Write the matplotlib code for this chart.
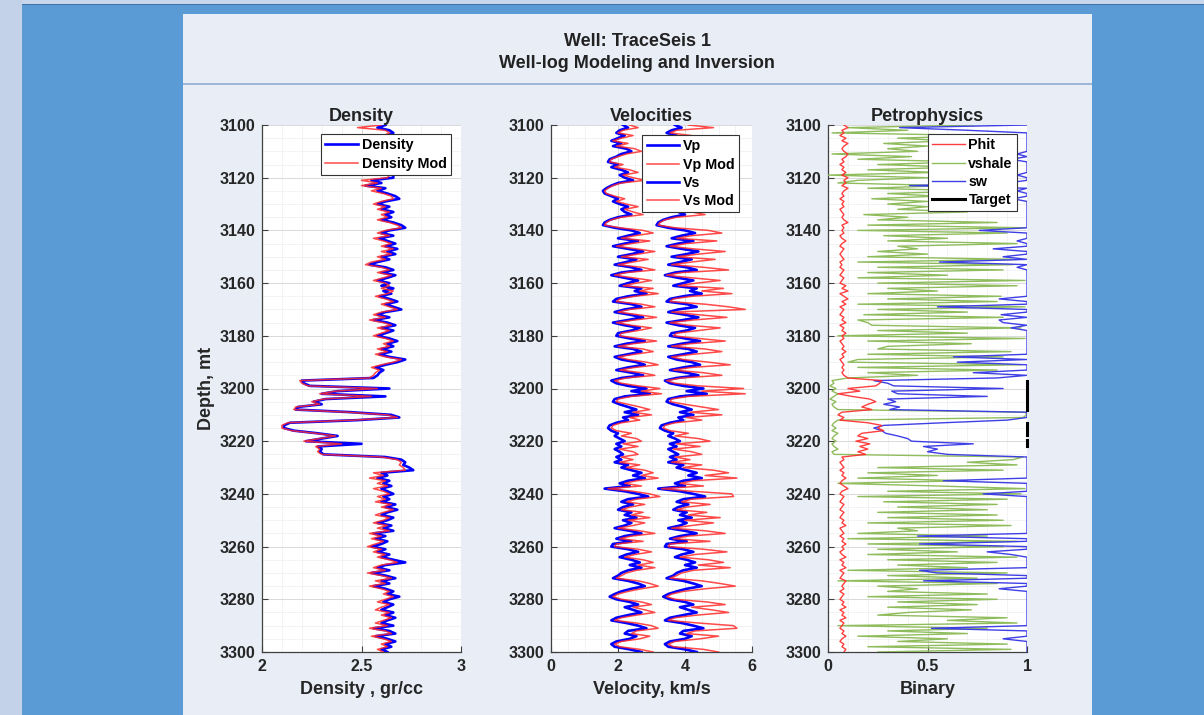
import numpy as np
import matplotlib
matplotlib.use("Agg")
import matplotlib.pyplot as plt
from matplotlib.patches import Rectangle
from matplotlib.ticker import MultipleLocator

plt.rcParams['font.family'] = ['Liberation Sans', 'DejaVu Sans']
plt.rcParams['font.weight'] = 'bold'

# ---------------- log data, 1 m sampling from 3100 to 3300 m ----------------
depth = np.arange(3100, 3301, 1.0)

density = [
    2.62, 2.58, 2.64, 2.66, 2.63, 2.65, 2.64, 2.66, 2.63, 2.65,
    2.64, 2.62, 2.66, 2.63, 2.65, 2.62, 2.64, 2.61, 2.63, 2.66,
    2.66, 2.55, 2.60, 2.52, 2.62, 2.58, 2.63, 2.67, 2.69, 2.62,
    2.58, 2.64, 2.60, 2.66, 2.62, 2.65, 2.60, 2.66, 2.70, 2.72,
    2.64, 2.60, 2.66, 2.59, 2.63, 2.67, 2.62, 2.68, 2.63, 2.67,
    2.60, 2.64, 2.58, 2.54, 2.62, 2.66, 2.60, 2.67, 2.63, 2.58,
    2.64, 2.60, 2.66, 2.61, 2.65, 2.59, 2.64, 2.68, 2.62, 2.66,
    2.70, 2.62, 2.58, 2.64, 2.56, 2.63, 2.67, 2.60, 2.66, 2.62,
    2.58, 2.64, 2.68, 2.63, 2.66, 2.60, 2.65, 2.59, 2.64, 2.72,
    2.68, 2.62, 2.57, 2.61, 2.59, 2.58, 2.56, 2.20, 2.21, 2.24,
    2.64, 2.38, 2.30, 2.62, 2.32, 2.26, 2.30, 2.18, 2.17, 2.45,
    2.65, 2.69, 2.48, 2.14, 2.11, 2.11, 2.16, 2.28, 2.38, 2.30,
    2.22, 2.50, 2.28, 2.30, 2.29, 2.31, 2.62, 2.70, 2.72, 2.71,
    2.74, 2.76, 2.60, 2.63, 2.58, 2.64, 2.61, 2.65, 2.60, 2.63,
    2.66, 2.61, 2.64, 2.60, 2.67, 2.62, 2.68, 2.63, 2.60, 2.66,
    2.63, 2.58, 2.65, 2.61, 2.66, 2.56, 2.62, 2.57, 2.63, 2.60,
    2.55, 2.62, 2.58, 2.64, 2.60, 2.66, 2.72, 2.62, 2.58, 2.64,
    2.55, 2.62, 2.67, 2.60, 2.64, 2.56, 2.62, 2.66, 2.63, 2.69,
    2.64, 2.61, 2.66, 2.63, 2.60, 2.66, 2.62, 2.67, 2.63, 2.60,
    2.66, 2.56, 2.64, 2.67, 2.57, 2.63, 2.67, 2.62, 2.65, 2.60,
    2.63,
]

density_mod = [
    2.60, 2.48, 2.62, 2.64, 2.61, 2.63, 2.62, 2.64, 2.61, 2.63,
    2.62, 2.60, 2.64, 2.61, 2.63, 2.60, 2.62, 2.59, 2.61, 2.64,
    2.63, 2.50, 2.58, 2.50, 2.60, 2.55, 2.61, 2.65, 2.66, 2.60,
    2.56, 2.62, 2.58, 2.64, 2.60, 2.63, 2.58, 2.64, 2.68, 2.70,
    2.62, 2.58, 2.64, 2.56, 2.61, 2.65, 2.60, 2.66, 2.60, 2.65,
    2.58, 2.62, 2.55, 2.52, 2.60, 2.64, 2.58, 2.65, 2.61, 2.56,
    2.62, 2.64, 2.60, 2.66, 2.63, 2.57, 2.62, 2.66, 2.60, 2.64,
    2.68, 2.60, 2.56, 2.62, 2.54, 2.61, 2.65, 2.58, 2.64, 2.60,
    2.56, 2.62, 2.66, 2.61, 2.64, 2.58, 2.63, 2.57, 2.62, 2.70,
    2.66, 2.60, 2.55, 2.59, 2.57, 2.56, 2.54, 2.19, 2.20, 2.23,
    2.58, 2.37, 2.29, 2.55, 2.31, 2.25, 2.29, 2.17, 2.16, 2.43,
    2.63, 2.68, 2.46, 2.13, 2.10, 2.10, 2.15, 2.27, 2.37, 2.29,
    2.21, 2.40, 2.27, 2.29, 2.28, 2.30, 2.60, 2.68, 2.70, 2.69,
    2.71, 2.72, 2.56, 2.61, 2.54, 2.62, 2.58, 2.63, 2.56, 2.61,
    2.64, 2.58, 2.62, 2.57, 2.65, 2.60, 2.66, 2.61, 2.57, 2.64,
    2.61, 2.56, 2.63, 2.58, 2.64, 2.54, 2.60, 2.55, 2.61, 2.57,
    2.53, 2.60, 2.56, 2.62, 2.58, 2.64, 2.68, 2.60, 2.56, 2.62,
    2.53, 2.60, 2.65, 2.57, 2.62, 2.54, 2.60, 2.64, 2.61, 2.66,
    2.62, 2.58, 2.64, 2.60, 2.57, 2.64, 2.60, 2.65, 2.61, 2.57,
    2.63, 2.54, 2.62, 2.65, 2.55, 2.61, 2.65, 2.60, 2.63, 2.58,
    2.61,
]

vp = [
    3.70, 3.90, 3.60, 3.45, 3.75, 3.55, 3.35, 3.65, 3.40, 3.85,
    4.00, 3.70, 3.50, 3.30, 3.25, 3.55, 3.35, 3.70, 3.95, 3.60,
    3.80, 4.05, 3.55, 3.35, 3.20, 3.15, 3.20, 3.40, 3.60, 3.45,
    3.65, 3.90, 3.70, 3.80, 4.00, 3.60, 3.35, 3.20, 3.15, 3.50,
    4.00, 4.30, 3.90, 3.60, 4.25, 3.80, 3.45, 3.90, 4.40, 4.05,
    3.60, 4.20, 3.85, 3.50, 4.05, 4.35, 3.70, 3.40, 3.80, 4.25,
    3.95, 3.65, 4.35, 4.15, 4.50, 3.95, 3.55, 3.45, 4.05, 4.35,
    3.80, 3.50, 4.00, 4.40, 3.95, 3.45, 3.80, 4.30, 4.05, 3.60,
    3.55, 4.00, 4.45, 3.90, 3.50, 4.10, 4.35, 3.95, 3.50, 3.75,
    4.20, 4.45, 3.95, 3.55, 4.05, 4.40, 3.75, 3.40, 3.55, 3.95,
    4.55, 4.05, 4.65, 3.85, 3.50, 3.45, 3.65, 3.95, 4.20, 3.85,
    4.25, 3.80, 3.95, 3.55, 3.30, 3.25, 3.40, 3.65, 3.50, 3.70,
    3.85, 3.55, 3.75, 3.50, 3.65, 3.80, 3.55, 3.75, 3.50, 3.95,
    3.75, 4.05, 4.35, 4.10, 4.50, 3.95, 3.70, 4.00, 3.20, 3.85,
    4.25, 4.60, 3.95, 3.75, 4.10, 3.80, 3.65, 4.05, 3.85, 4.20,
    3.80, 4.05, 3.85, 3.50, 4.00, 4.35, 3.85, 3.55, 4.05, 3.45,
    3.40, 3.95, 4.25, 3.90, 3.70, 4.05, 4.30, 4.00, 4.35, 3.95,
    3.75, 3.65, 3.45, 3.95, 4.25, 4.50, 4.05, 3.75, 3.50, 3.35,
    3.55, 4.00, 4.25, 3.85, 4.10, 4.35, 3.95, 3.55, 3.40, 3.90,
    4.25, 4.55, 3.95, 3.85, 4.20, 4.00, 3.55, 3.40, 3.50, 4.00,
    4.35,
]

vp_mod = [
    4.10, 4.85, 3.75, 3.55, 4.20, 3.70, 3.40, 3.95, 3.50, 4.30,
    4.50, 3.90, 3.60, 3.35, 3.30, 3.75, 3.45, 4.00, 4.40, 3.75,
    4.20, 4.70, 3.70, 3.40, 3.25, 3.20, 3.25, 3.55, 3.90, 3.60,
    3.90, 4.40, 3.85, 4.20, 4.60, 3.75, 3.40, 3.25, 3.20, 3.70,
    4.70, 5.10, 4.20, 3.75, 4.95, 4.05, 3.55, 4.25, 5.20, 4.40,
    3.75, 4.90, 4.20, 3.60, 4.55, 5.30, 3.90, 3.45, 4.20, 5.05,
    4.35, 3.80, 5.15, 4.50, 5.40, 4.20, 3.65, 3.55, 4.60, 5.30,
    5.80, 3.60, 4.40, 5.25, 4.25, 3.55, 4.10, 5.05, 4.40, 3.75,
    3.65, 4.40, 5.20, 4.15, 3.60, 4.60, 5.10, 4.25, 3.60, 3.95,
    4.70, 5.35, 4.20, 3.65, 4.55, 5.10, 3.90, 3.45, 3.70, 4.40,
    5.75, 4.50, 5.80, 4.10, 3.60, 3.55, 4.00, 4.50, 5.00, 4.15,
    5.10, 4.05, 4.50, 3.70, 3.40, 3.35, 3.55, 4.10, 3.70, 4.40,
    4.75, 3.75, 4.45, 3.65, 4.20, 4.50, 3.70, 4.15, 3.60, 4.50,
    3.95, 4.85, 5.30, 4.60, 5.55, 4.25, 3.85, 4.55, 3.30, 4.20,
    5.40, 5.45, 4.20, 3.90, 4.75, 4.05, 3.75, 4.65, 4.10, 5.05,
    4.00, 4.85, 4.20, 3.60, 4.60, 5.20, 4.10, 3.65, 4.75, 3.55,
    3.50, 4.55, 5.25, 4.30, 3.85, 4.70, 5.15, 4.40, 5.35, 4.25,
    3.90, 3.75, 3.55, 4.50, 5.05, 5.50, 4.60, 3.95, 3.60, 3.45,
    3.70, 4.65, 5.20, 4.20, 4.80, 5.30, 4.35, 3.70, 3.50, 4.40,
    5.45, 5.55, 4.30, 4.05, 5.00, 4.45, 3.70, 3.50, 3.65, 4.55,
    5.00,
]

vs = [
    2.15, 2.30, 2.05, 1.95, 2.20, 2.00, 1.80, 2.10, 1.85, 2.25,
    2.40, 2.10, 1.95, 1.75, 1.70, 2.00, 1.80, 2.10, 2.30, 2.05,
    2.20, 2.45, 2.00, 1.80, 1.65, 1.55, 1.60, 1.80, 2.00, 1.85,
    2.05, 2.30, 2.10, 2.20, 2.40, 2.00, 1.75, 1.60, 1.55, 1.90,
    2.40, 2.65, 2.30, 2.00, 2.60, 2.20, 1.85, 2.30, 2.75, 2.40,
    2.00, 2.55, 2.25, 1.90, 2.40, 2.70, 2.10, 1.80, 2.20, 2.60,
    2.30, 2.05, 2.70, 2.50, 2.85, 2.30, 1.95, 1.85, 2.40, 2.70,
    2.20, 1.90, 2.35, 2.75, 2.30, 1.85, 2.20, 2.65, 2.40, 2.00,
    1.95, 2.35, 2.80, 2.25, 1.90, 2.45, 2.70, 2.30, 1.90, 2.10,
    2.55, 2.80, 2.30, 1.95, 2.40, 2.75, 2.10, 1.80, 1.95, 2.30,
    2.85, 2.40, 2.95, 2.20, 1.90, 1.85, 2.05, 2.30, 2.55, 2.20,
    2.60, 2.15, 2.30, 1.95, 1.75, 1.70, 1.80, 2.00, 1.90, 2.05,
    2.20, 1.95, 2.10, 1.90, 2.05, 2.15, 1.95, 2.10, 1.90, 2.30,
    2.10, 2.40, 2.70, 2.45, 2.80, 2.30, 2.05, 2.35, 1.60, 2.20,
    2.60, 2.90, 2.30, 2.10, 2.45, 2.15, 2.00, 2.40, 2.20, 2.55,
    2.15, 2.40, 2.20, 1.90, 2.35, 2.70, 2.20, 1.95, 2.40, 1.85,
    1.80, 2.30, 2.60, 2.25, 2.05, 2.40, 2.65, 2.35, 2.70, 2.30,
    2.10, 2.00, 1.85, 2.30, 2.60, 2.80, 2.40, 2.10, 1.90, 1.75,
    1.95, 2.35, 2.60, 2.20, 2.45, 2.70, 2.30, 1.95, 1.80, 2.25,
    2.60, 2.85, 2.30, 2.20, 2.55, 2.35, 1.95, 1.80, 1.90, 2.35,
    2.70,
]

vs_mod = [
    2.35, 2.60, 2.15, 2.00, 2.45, 2.10, 1.85, 2.30, 1.95, 2.50,
    2.70, 2.25, 2.00, 1.80, 1.75, 2.15, 1.90, 2.35, 2.60, 2.15,
    2.45, 2.80, 2.10, 1.85, 1.70, 1.60, 1.65, 1.90, 2.20, 1.95,
    2.25, 2.60, 2.20, 2.45, 2.75, 2.10, 1.80, 1.65, 1.60, 2.05,
    2.75, 3.05, 2.50, 2.10, 2.95, 2.40, 1.95, 2.55, 3.10, 2.60,
    2.10, 2.90, 2.45, 2.00, 2.70, 3.10, 2.25, 1.90, 2.45, 3.00,
    2.55, 2.15, 3.05, 2.65, 3.20, 2.50, 2.05, 1.95, 2.70, 3.10,
    2.35, 2.00, 2.60, 3.15, 2.50, 1.95, 2.40, 3.00, 2.60, 2.10,
    2.05, 2.60, 3.15, 2.45, 2.00, 2.75, 3.05, 2.50, 2.00, 2.30,
    2.85, 3.20, 2.50, 2.05, 2.70, 3.10, 2.25, 1.90, 2.10, 2.60,
    3.25, 2.70, 3.30, 2.40, 2.00, 1.95, 2.30, 2.65, 2.95, 2.45,
    3.00, 2.35, 2.65, 2.10, 1.85, 1.80, 1.95, 2.40, 2.10, 2.55,
    2.70, 2.15, 2.60, 2.05, 2.45, 2.60, 2.10, 2.45, 2.05, 2.65,
    2.25, 2.80, 3.05, 2.70, 3.20, 2.55, 2.20, 2.70, 1.70, 2.45,
    2.95, 3.25, 2.55, 2.25, 2.80, 2.35, 2.10, 2.75, 2.40, 2.95,
    2.30, 2.80, 2.45, 2.00, 2.65, 3.10, 2.40, 2.05, 2.75, 1.95,
    1.90, 2.60, 3.00, 2.50, 2.20, 2.75, 3.05, 2.60, 3.10, 2.55,
    2.25, 2.10, 1.95, 2.60, 2.95, 3.20, 2.70, 2.30, 2.00, 1.85,
    2.10, 2.70, 3.00, 2.45, 2.80, 3.10, 2.55, 2.10, 1.90, 2.55,
    3.00, 3.20, 2.55, 2.40, 2.95, 2.65, 2.10, 1.90, 2.05, 2.65,
    3.05,
]

phit = [
    0.08, 0.10, 0.07, 0.08, 0.06, 0.09, 0.07, 0.10, 0.08, 0.07,
    0.08, 0.10, 0.09, 0.07, 0.08, 0.06, 0.08, 0.07, 0.09, 0.07,
    0.10, 0.08, 0.09, 0.07, 0.10, 0.08, 0.07, 0.08, 0.06, 0.08,
    0.07, 0.08, 0.06, 0.07, 0.08, 0.07, 0.08, 0.10, 0.07, 0.08,
    0.07, 0.08, 0.06, 0.07, 0.09, 0.07, 0.06, 0.08, 0.07, 0.06,
    0.07, 0.08, 0.06, 0.07, 0.06, 0.08, 0.07, 0.06, 0.08, 0.07,
    0.06, 0.09, 0.07, 0.10, 0.06, 0.08, 0.10, 0.07, 0.09, 0.06,
    0.08, 0.07, 0.06, 0.08, 0.07, 0.09, 0.06, 0.08, 0.07, 0.09,
    0.07, 0.08, 0.06, 0.07, 0.08, 0.07, 0.09, 0.07, 0.08, 0.06,
    0.07, 0.08, 0.07, 0.08, 0.07, 0.08, 0.10, 0.27, 0.26, 0.24,
    0.10, 0.16, 0.05, 0.12, 0.21, 0.24, 0.20, 0.17, 0.22, 0.07,
    0.05, 0.08, 0.06, 0.20, 0.27, 0.25, 0.28, 0.17, 0.15, 0.20,
    0.14, 0.21, 0.16, 0.20, 0.15, 0.19, 0.07, 0.08, 0.06, 0.07,
    0.08, 0.06, 0.08, 0.07, 0.09, 0.07, 0.06, 0.08, 0.10, 0.07,
    0.06, 0.08, 0.07, 0.06, 0.08, 0.07, 0.06, 0.08, 0.07, 0.06,
    0.08, 0.07, 0.09, 0.06, 0.07, 0.08, 0.06, 0.08, 0.07, 0.09,
    0.07, 0.08, 0.06, 0.07, 0.09, 0.06, 0.08, 0.07, 0.09, 0.06,
    0.08, 0.07, 0.06, 0.09, 0.08, 0.07, 0.08, 0.06, 0.08, 0.07,
    0.06, 0.08, 0.07, 0.09, 0.06, 0.08, 0.07, 0.09, 0.06, 0.08,
    0.07, 0.06, 0.08, 0.07, 0.09, 0.07, 0.06, 0.08, 0.07, 0.09,
    0.08,
]

vshale = [
    0.73, 0.10, 0.40, 0.02, 0.80, 0.35, 0.60, 0.28, 0.50, 0.30,
    0.45, 0.02, 0.42, 0.15, 0.70, 0.25, 0.65, 0.20, 0.55, 0.00,
    0.50, 0.15, 0.05, 0.60, 0.20, 0.75, 0.30, 0.55, 0.22, 0.50,
    0.30, 0.50, 0.35, 0.70, 0.18, 0.40, 0.25, 0.85, 0.20, 0.99,
    0.15, 0.90, 0.28, 0.60, 0.30, 0.95, 0.35, 0.45, 0.25, 0.50,
    0.20, 0.95, 0.15, 0.93, 0.25, 0.88, 0.20, 0.60, 0.15, 0.99,
    0.25, 0.95, 0.30, 0.55, 0.20, 0.87, 0.30, 0.85, 0.15, 0.99,
    0.25, 0.70, 0.18, 0.88, 0.15, 0.20, 0.22, 0.97, 0.25, 0.70,
    0.05, 0.99, 0.20, 0.72, 0.30, 0.25, 0.92, 0.20, 0.88, 0.15,
    0.10, 0.97, 0.15, 0.85, 0.20, 0.45, 0.10, 0.02, 0.03, 0.01,
    0.04, 0.02, 0.05, 0.03, 0.01, 0.04, 0.02, 0.03, 0.05, 0.99,
    1.00, 0.98, 0.05, 0.03, 0.02, 0.04, 0.02, 0.05, 0.03, 0.02,
    0.04, 0.02, 0.03, 0.05, 0.02, 0.03, 0.98, 0.93, 0.70, 0.95,
    0.25, 0.88, 0.20, 0.55, 0.15, 0.70, 0.05, 0.55, 0.99, 0.30,
    0.97, 0.15, 0.90, 0.28, 0.85, 0.35, 0.80, 0.25, 0.85, 0.30,
    0.88, 0.20, 0.92, 0.35, 0.45, 0.15, 0.80, 0.10, 0.95, 0.20,
    0.88, 0.25, 0.65, 0.20, 0.95, 0.30, 0.85, 0.35, 0.70, 0.10,
    0.90, 0.30, 0.75, 0.05, 0.85, 0.25, 0.45, 0.30, 0.80, 0.20,
    0.85, 0.35, 0.75, 0.30, 0.72, 0.40, 0.25, 0.90, 0.60, 0.95,
    0.05, 0.80, 0.30, 0.70, 0.15, 0.60, 0.35, 0.90, 0.20, 0.92,
    0.25,
]

sw = [
    1.00, 0.36, 0.70, 1.00, 1.00, 1.00, 1.00, 1.00, 1.00, 1.00,
    1.00, 0.95, 1.00, 0.92, 1.00, 1.00, 1.00, 1.00, 1.00, 0.95,
    1.00, 1.00, 0.90, 0.41, 1.00, 0.95, 1.00, 1.00, 0.93, 1.00,
    1.00, 1.00, 1.00, 1.00, 1.00, 1.00, 1.00, 1.00, 1.00, 1.00,
    0.76, 1.00, 1.00, 1.00, 0.95, 1.00, 1.00, 0.83, 1.00, 1.00,
    0.88, 1.00, 0.56, 1.00, 0.95, 1.00, 1.00, 1.00, 1.00, 1.00,
    1.00, 1.00, 1.00, 1.00, 1.00, 1.00, 0.86, 1.00, 1.00, 0.55,
    1.00, 1.00, 0.87, 1.00, 0.86, 0.88, 1.00, 0.92, 1.00, 1.00,
    1.00, 1.00, 1.00, 1.00, 1.00, 1.00, 1.00, 1.00, 0.63, 1.00,
    0.65, 1.00, 1.00, 1.00, 0.73, 1.00, 0.85, 0.23, 0.30, 0.33,
    0.88, 0.32, 0.35, 0.80, 0.30, 0.34, 0.28, 0.36, 0.31, 1.00,
    1.00, 1.00, 0.90, 0.58, 0.28, 0.23, 0.27, 0.29, 0.35, 0.40,
    0.42, 0.73, 0.48, 0.55, 0.50, 0.60, 1.00, 1.00, 1.00, 1.00,
    1.00, 1.00, 1.00, 1.00, 1.00, 0.58, 1.00, 1.00, 1.00, 1.00,
    0.78, 1.00, 1.00, 1.00, 1.00, 1.00, 1.00, 1.00, 1.00, 1.00,
    1.00, 1.00, 1.00, 1.00, 1.00, 1.00, 0.45, 1.00, 1.00, 0.46,
    1.00, 1.00, 0.80, 0.92, 1.00, 1.00, 1.00, 1.00, 1.00, 0.46,
    0.55, 1.00, 1.00, 0.48, 1.00, 1.00, 0.86, 1.00, 1.00, 1.00,
    1.00, 1.00, 1.00, 1.00, 1.00, 1.00, 1.00, 1.00, 1.00, 1.00,
    1.00, 0.52, 1.00, 1.00, 1.00, 0.88, 1.00, 1.00, 1.00, 1.00,
    1.00,
]

# target (reservoir) intervals, top and base depth in m
target_tops = [3197.0, 3200.5, 3203.0, 3213.0, 3219.5]
target_bases = [3199.5, 3201.7, 3208.0, 3217.6, 3221.8]

# ---------------- axis settings ----------------
depth_ticks = [3100, 3120, 3140, 3160, 3180, 3200, 3220, 3240, 3260, 3280, 3300]
dens_ticks, dens_labels = [2, 2.5, 3], ["2", "2.5", "3"]
vel_ticks, vel_labels = [0, 2, 4, 6], ["0", "2", "4", "6"]
bin_ticks, bin_labels = [0, 0.5, 1], ["0", "0.5", "1"]

BLUE = '#0000FF'
RED = '#FF2A2A'
GREEN = '#8FBC5C'
SWBLUE = '#3F3FE6'
PANEL = '#E8EDF6'
OUTER = '#5B9BD5'
TXT = '#262626'

W, H = 1204, 715
fig = plt.figure(figsize=(W / 100, H / 100), dpi=100)
fig.patch.set_facecolor(OUTER)


def fx(px):
    return px / W


def fy(py):
    return 1 - py / H


def band(x0, y0, x1, y1, color, z):
    """Filled rectangle given in pixel corners (top-left, bottom-right)."""
    fig.patches.append(Rectangle((fx(x0), fy(y1)), fx(x1) - fx(x0), fy(y0) - fy(y1),
                                 transform=fig.transFigure, facecolor=color,
                                 edgecolor='none', zorder=z))


# background panels (kept beneath the axes)
band(0, 0, 22, H, '#C3D2E8', -10)
band(22, 0, W, 4, '#C9D7EC', -10)
band(22, 4, W, 5.2, '#3F72A8', -9)
band(183, 14, 1092, H, PANEL, -8)
band(183, 83.3, 1092, 84.8, '#9DB7D8', -7)

fig.text(fx(637), fy(41), "Well: TraceSeis 1", ha='center', va='center',
         fontsize=13, fontweight='bold', color='#222222')
fig.text(fx(637), fy(64), "Well-log Modeling and Inversion", ha='center', va='center',
         fontsize=13, fontweight='bold', color='#222222')

ax_top, ax_bot = 125, 652
boxes = [(262, 461), (551, 752), (828, 1027)]
axes = []
for (l, r) in boxes:
    ax = fig.add_axes([fx(l), fy(ax_bot), fx(r) - fx(l), fy(ax_top) - fy(ax_bot)])
    axes.append(ax)


def style(ax, xlim, ticks, labels, xminor, title, xlabel):
    ax.set_facecolor('white')
    ax.set_ylim(3300, 3100)
    ax.set_xlim(*xlim)
    ax.set_yticks(depth_ticks)
    ax.set_yticklabels([str(t) for t in depth_ticks])
    ax.set_xticks(ticks)
    ax.set_xticklabels(labels)
    ax.xaxis.set_minor_locator(MultipleLocator(xminor))
    ax.yaxis.set_minor_locator(MultipleLocator(5))
    ax.grid(True, which='major', color='#D9D9D9', linewidth=0.7)
    ax.grid(True, which='minor', color='#EEEEEE', linewidth=0.5)
    ax.set_axisbelow(True)
    for s in ('top', 'right'):
        ax.spines[s].set_visible(False)
    for s in ('left', 'bottom'):
        ax.spines[s].set_color('#404040')
        ax.spines[s].set_linewidth(0.9)
    ax.tick_params(which='major', direction='in', length=4, color='#404040',
                   labelsize=11.5, labelcolor=TXT, pad=5)
    ax.tick_params(which='minor', length=0)
    for lab in ax.get_xticklabels() + ax.get_yticklabels():
        lab.set_fontweight('bold')
    ax.set_title(title, fontsize=13, fontweight='bold', color='#222222', pad=3)
    ax.set_xlabel(xlabel, fontsize=13, fontweight='bold', color=TXT, labelpad=5)


def legend(ax, x_right, y_top):
    leg = ax.legend(loc='upper right', bbox_to_anchor=(x_right, y_top), borderaxespad=0,
                    handlelength=2.3, handletextpad=0.25, borderpad=0.3,
                    labelspacing=0.3, fancybox=False, framealpha=1, edgecolor='#333333',
                    prop={'weight': 'bold', 'size': 10.3})
    leg.get_frame().set_linewidth(0.8)
    leg.set_zorder(20)
    return leg


# Density track
ax = axes[0]
ax.plot(density, depth, color=BLUE, lw=1.9, label='Density', zorder=3)
ax.plot(density_mod, depth, color=RED, lw=1.1, alpha=0.85, label='Density Mod', zorder=4)
style(ax, (2, 3), dens_ticks, dens_labels, 0.1, 'Density', 'Density , gr/cc')
ax.set_ylabel('Depth, mt', fontsize=13, fontweight='bold', color=TXT, labelpad=3)
legend(ax, 0.95, 0.983)

# Velocity track
ax = axes[1]
ax.plot(vp, depth, color=BLUE, lw=1.9, label='Vp', zorder=3)
ax.plot(vp_mod, depth, color=RED, lw=1.1, alpha=0.85, label='Vp Mod', zorder=4)
ax.plot(vs, depth, color=BLUE, lw=1.9, label='Vs', zorder=3)
ax.plot(vs_mod, depth, color=RED, lw=1.1, alpha=0.85, label='Vs Mod', zorder=4)
style(ax, (0, 6), vel_ticks, vel_labels, 0.5, 'Velocities', 'Velocity, km/s')
legend(ax, 0.935, 0.981)

# Petrophysics track
ax = axes[2]
ax.plot(phit, depth, color=RED, lw=1.0, alpha=0.9, label='Phit', zorder=5)
ax.plot(vshale, depth, color=GREEN, lw=1.0, label='vshale', zorder=3)
ax.plot(sw, depth, color=SWBLUE, lw=1.0, label='sw', zorder=4)
for i, (t, b) in enumerate(zip(target_tops, target_bases)):
    ax.plot([1, 1], [t, b], color='black', lw=2.2, clip_on=False, zorder=6,
            label='Target' if i == 0 else None)
style(ax, (0, 1), bin_ticks, bin_labels, 0.1, 'Petrophysics', 'Binary')
legend(ax, 0.95, 0.983)

fig.savefig('out.png', dpi=100, facecolor=fig.get_facecolor())
